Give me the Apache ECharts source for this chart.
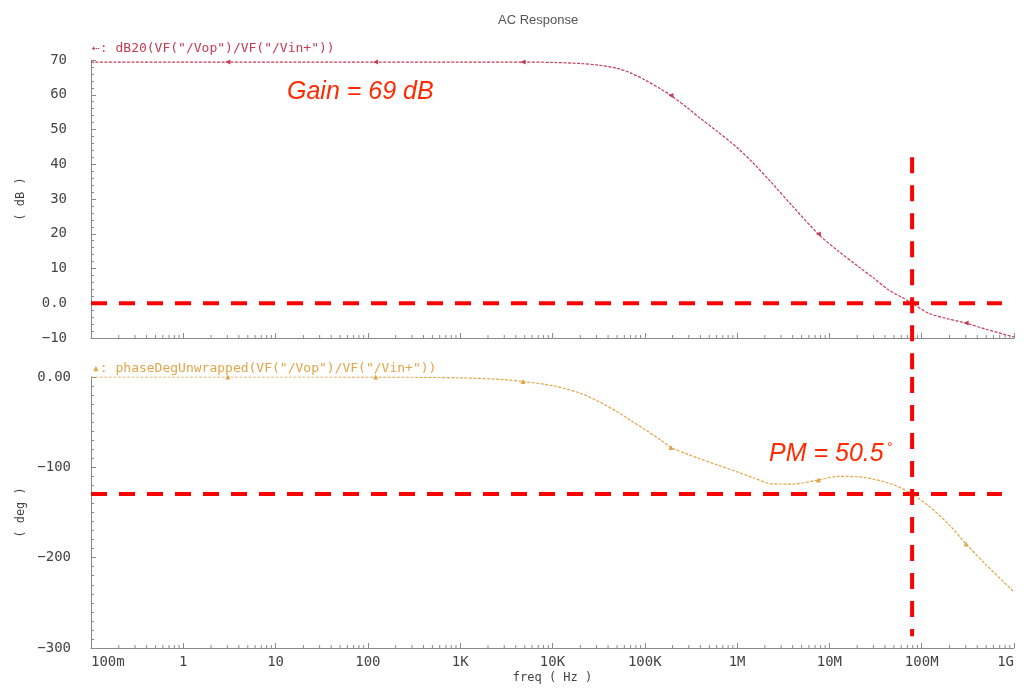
<!DOCTYPE html>
<html>
<head>
<meta charset="utf-8">
<title>AC Response</title>
<script src="https://cdn.jsdelivr.net/npm/echarts@6/dist/echarts.min.js"></script>
<style>
  html, body { margin: 0; padding: 0; background: #fff; }
  #chart { width: 1029px; height: 688px; }
</style>
</head>
<body>
<div id="chart"></div>
<script>
// frequency sweep (Hz)
const freqs = [0.1, 1, 3.04, 10, 121, 1e3, 3e3, 4.8e3, 1e4, 2e4, 3.2e4, 5e4, 7e4, 1e5, 1.5e5, 1.92e5,
  3e5, 4e5, 6e5, 1e6, 1.5e6, 2.4e6, 4e6, 7.6e6, 1.25e7, 2.1e7, 3e7, 4.4e7, 6e7, 7.87e7, 1.2e8, 2e8,
  3.03e8, 5e8, 1e9];
const gainDb = [69.4, 69.4, 69.4, 69.4, 69.4, 69.4, 69.4, 69.4, 69.3, 69.0, 68.5, 67.6, 66.3, 64.3, 61.6, 59.8,
  55.9, 53.2, 49.6, 44.8, 40.3, 34.5, 27.9, 19.9, 15.0, 10.4, 7.3, 3.8, 1.8, 0, -2.9, -4.6,
  -5.7, -7.5, -9.7];
const phaseDeg = [0, 0, 0, 0, -0.1, -0.9, -2.9, -5.0, -9.5, -18, -27.5, -38.5, -48, -58, -70, -78,
  -86, -90.8, -97, -105, -111.5, -118.3, -118.5, -114, -110, -110.5, -113, -117.5, -123, -129.5, -143, -164,
  -185, -208, -238];
const markerFreqs = [3.04, 121, 4.8e3, 1.92e5, 7.6e6, 3.03e8];

const freqTickLabels = ['100m', '1', '10', '100', '1K', '10K', '100K', '1M', '10M', '100M', '1G'];
const gainTicks = [-10, 0, 10, 20, 30, 40, 50, 60, 70];
const gainTickLabels = ['\u221210', '0.0', '10', '20', '30', '40', '50', '60', '70'];
const phaseTicks = [-300, -200, -100, 0];
const phaseTickLabels = ['\u2212300', '\u2212200', '\u2212100', '0.00'];

// annotation lines
const unityFreq = 7.87e7;
const pmPhase = -129.5;
const guideEndFreq = 7.4e8;
const vGainRange = [42, -21.2];
const vPhaseRange = [0, -287];

// log minor ticks 2..9 per decade
const decades = [0.1, 1, 10, 100, 1e3, 1e4, 1e5, 1e6, 1e7, 1e8];
const minorMults = [2, 3, 4, 5, 6, 7, 8, 9];
const minorFreqs = [];
decades.forEach(d => minorMults.forEach(m => minorFreqs.push(d * m)));

const mono = '"DejaVu Sans Mono", monospace';
const axisColor = '#8a8a8a';
const labelColor = '#444';
const gainColor = '#c63a54';
const phaseColor = '#e3a548';
const guideColor = '#ff0000';

const chart = echarts.init(document.getElementById('chart'));

const withMarkers = (vals, symbolRotate) => freqs.map((f, i) =>
  markerFreqs.includes(f)
    ? { value: [f, vals[i]], symbol: 'triangle', symbolSize: 5, symbolRotate }
    : { value: [f, vals[i]], symbol: 'none' });

const tickRender = len => (params, api) => {
  const p = api.coord([api.value(0), api.value(1)]);
  return {
    type: 'line',
    shape: { x1: p[0], y1: p[1], x2: p[0], y2: p[1] - len },
    style: { stroke: axisColor, lineWidth: 1 }
  };
};

const xAxisBase = {
  type: 'log',
  logBase: 10,
  min: 0.1,
  max: 1e9,
  interval: 1,
  axisLine: { onZero: false, lineStyle: { color: axisColor } },
  axisTick: { inside: true, length: 5, lineStyle: { color: axisColor } },
  splitLine: { show: false }
};

const yAxisBase = {
  type: 'value',
  nameLocation: 'middle',
  nameRotate: 90,
  nameGap: 64,
  nameTextStyle: { fontFamily: mono, fontSize: 12, color: labelColor },
  axisLine: { show: true, onZero: false, lineStyle: { color: axisColor } },
  axisTick: { inside: true, length: 5, lineStyle: { color: axisColor } },
  minorTick: { show: true, length: 3, lineStyle: { color: axisColor } },
  splitLine: { show: false },
  minorSplitLine: { show: false }
};

const guide = (xAxisIndex, data) => ({
  type: 'line',
  xAxisIndex, yAxisIndex: xAxisIndex,
  data,
  symbol: 'none',
  clip: false,
  silent: true,
  z: 10,
  lineStyle: { color: guideColor, width: 4, type: [16, 12] }
});

const option = {
  animation: false,
  backgroundColor: '#fff',
  title: {
    text: 'AC Response',
    left: 493, top: 9,
    textStyle: { fontFamily: 'Liberation Sans', fontSize: 13, fontWeight: 'normal', color: '#555' }
  },
  grid: [
    { left: 91, right: 15, top: 60, height: 278 },
    { left: 91, right: 15, top: 377, height: 271 }
  ],
  xAxis: [
    Object.assign({}, xAxisBase, { gridIndex: 0, axisLabel: { show: false } }),
    Object.assign({}, xAxisBase, {
      gridIndex: 1,
      name: 'freq ( Hz )',
      nameLocation: 'middle',
      nameGap: 24,
      nameTextStyle: { fontFamily: mono, fontSize: 12, color: labelColor },
      axisLabel: {
        fontFamily: mono, fontSize: 14, color: labelColor, margin: 7,
        alignMinLabel: 'left', alignMaxLabel: 'right',
        formatter: v => freqTickLabels[Math.round(Math.log10(v)) + 1]
      }
    })
  ],
  yAxis: [
    Object.assign({}, yAxisBase, {
      gridIndex: 0, name: '( dB )', min: -10, max: 70, interval: 10,
      minorTick: Object.assign({}, yAxisBase.minorTick, { splitNumber: 5 }),
      axisLabel: {
        fontFamily: mono, fontSize: 14, color: labelColor, margin: 24,
        formatter: v => gainTickLabels[gainTicks.indexOf(v)]
      }
    }),
    Object.assign({}, yAxisBase, {
      gridIndex: 1, name: '( deg )', min: -300, max: 0, interval: 100,
      minorTick: Object.assign({}, yAxisBase.minorTick, { splitNumber: 10 }),
      axisLabel: {
        fontFamily: mono, fontSize: 14, color: labelColor, margin: 20,
        formatter: v => phaseTickLabels[phaseTicks.indexOf(v)]
      }
    })
  ],
  series: [
    {
      type: 'line', xAxisIndex: 0, yAxisIndex: 0,
      data: withMarkers(gainDb, 90),
      smooth: 0.3,
      lineStyle: { color: gainColor, width: 1.2, type: [3, 1.5] },
      itemStyle: { color: gainColor }
    },
    {
      type: 'line', xAxisIndex: 1, yAxisIndex: 1,
      data: withMarkers(phaseDeg, 0),
      smooth: 0.3,
      lineStyle: { color: phaseColor, width: 1.2, type: [3, 1.5] },
      itemStyle: { color: phaseColor }
    },
    {
      type: 'custom', xAxisIndex: 0, yAxisIndex: 0, silent: true, z: 5,
      data: minorFreqs.map(f => [f, -10]), renderItem: tickRender(3)
    },
    {
      type: 'custom', xAxisIndex: 1, yAxisIndex: 1, silent: true, z: 5,
      data: minorFreqs.map(f => [f, -300]), renderItem: tickRender(3)
    },
    guide(0, [[0.1, 0], [guideEndFreq, 0]]),
    guide(0, [[unityFreq, vGainRange[0]], [unityFreq, vGainRange[1]]]),
    guide(1, [[0.1, pmPhase], [guideEndFreq, pmPhase]]),
    guide(1, [[unityFreq, vPhaseRange[0]], [unityFreq, vPhaseRange[1]]])
  ],
  graphic: [
    {
      type: 'text', left: 92, top: 42,
      style: { text: '\u21e0: dB20(VF("/Vop")/VF("/Vin+"))', font: '13px ' + mono, fill: gainColor }
    },
    {
      type: 'text', left: 92, top: 362,
      style: { text: '\u25b4: phaseDegUnwrapped(VF("/Vop")/VF("/Vin+"))', font: '13px ' + mono, fill: phaseColor }
    },
    {
      type: 'text', left: 287, top: 80,
      style: { text: 'Gain = 69 dB', font: 'italic 25px "Liberation Sans", Arial, sans-serif', fill: '#ff2a00' }
    },
    {
      type: 'text', left: 769, top: 442,
      style: { text: 'PM = 50.5', font: 'italic 25px "Liberation Sans", Arial, sans-serif', fill: '#ff2a00' }
    },
    {
      type: 'text', left: 887, top: 441,
      style: { text: '\u00b0', font: '14px "Liberation Sans", Arial, sans-serif', fill: '#ff2a00' }
    }
  ]
};

chart.setOption(option);
</script>
</body>
</html>
